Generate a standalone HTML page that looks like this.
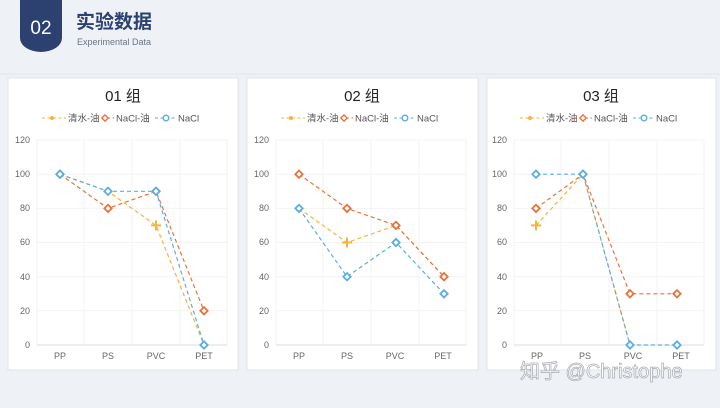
<!DOCTYPE html>
<html><head><meta charset="utf-8"><style>
body{margin:0;width:720px;height:403px;background:#eef2f6;overflow:hidden;font-family:"Liberation Sans","Noto Sans CJK SC",sans-serif}
</style></head><body>
<svg width="720" height="403" xmlns="http://www.w3.org/2000/svg" font-family="Liberation Sans, Noto Sans CJK SC, sans-serif">
<defs>
<g id="d"><rect x="-2.6" y="-2.6" width="5.2" height="5.2" transform="rotate(45)" fill="#fff" stroke-width="1.8"/></g>
<g id="ds"><rect x="-2.2" y="-2.2" width="4.4" height="4.4" transform="rotate(45)" fill="#fff" stroke-width="1.4"/></g>
</defs>
<rect x="0" y="0" width="720" height="403" fill="#eef2f6"/>
<line x1="0" y1="74" x2="720" y2="74" stroke="#e2e7ed"/>
<path d="M20 0 H62 V38 A21 14 0 0 1 20 38 Z" fill="#2c4170"/>
<text x="41" y="34" font-size="19" fill="#fff" text-anchor="middle">02</text>
<text x="76" y="28" font-size="19" font-weight="bold" fill="#2c4170">实验数据</text>
<text x="77" y="45" font-size="9" fill="#6a7585">Experimental Data</text>

<rect x="8" y="78" width="230" height="292" fill="#fff" stroke="#e0e4ea"/>
<rect x="247" y="78" width="231" height="292" fill="#fff" stroke="#e0e4ea"/>
<rect x="487" y="78" width="229" height="292" fill="#fff" stroke="#e0e4ea"/>

<g font-size="15" fill="#222" text-anchor="middle">
<text x="123" y="101">01 组</text><text x="362" y="101">02 组</text><text x="601" y="101">03 组</text>
</g>

<g id="leg" font-size="9.5" fill="#555">
<line x1="42" y1="118" x2="66" y2="118" stroke="#f5b342" stroke-dasharray="3,2.5"/><circle cx="52" cy="118" r="2" fill="#f5b342"/>
<text x="68" y="121.5">清水-油</text>
<line x1="96" y1="118" x2="114" y2="118" stroke="#e8733a" stroke-dasharray="3,2.5"/><use href="#ds" x="105" y="118" stroke="#e8733a"/>
<text x="116" y="121.5">NaCl-油</text>
<line x1="155" y1="118" x2="176" y2="118" stroke="#5aaee0" stroke-dasharray="3,2.5"/><circle cx="166" cy="118" r="2.8" fill="#fff" stroke="#5aaee0" stroke-width="1.4"/>
<text x="178" y="121.5">NaCl</text>
</g>
<use href="#leg" x="239"/>
<use href="#leg" x="478"/>

<g id="ax" font-size="9" fill="#666">
<g stroke="#f3f3f3">
<line x1="37" y1="140" x2="227" y2="140"/><line x1="37" y1="174.2" x2="227" y2="174.2"/><line x1="37" y1="208.4" x2="227" y2="208.4"/><line x1="37" y1="242.5" x2="227" y2="242.5"/><line x1="37" y1="276.7" x2="227" y2="276.7"/><line x1="37" y1="310.8" x2="227" y2="310.8"/>
<line x1="37" y1="140" x2="37" y2="345"/><line x1="84" y1="140" x2="84" y2="345"/><line x1="132" y1="140" x2="132" y2="345"/><line x1="180" y1="140" x2="180" y2="345"/><line x1="227" y1="140" x2="227" y2="345"/>
</g>
<line x1="37" y1="345" x2="227" y2="345" stroke="#dcdcdc"/>
<g text-anchor="end">
<text x="30" y="143">120</text><text x="30" y="177">100</text><text x="30" y="211">80</text><text x="30" y="245">60</text><text x="30" y="280">40</text><text x="30" y="314">20</text><text x="30" y="348">0</text>
</g>
<g text-anchor="middle">
<text x="60" y="359">PP</text><text x="108" y="359">PS</text><text x="156" y="359">PVC</text><text x="204" y="359">PET</text>
</g>
</g>
<use href="#ax" x="239"/>
<use href="#ax" x="477"/>

<g fill="none" stroke-width="1.2" stroke-dasharray="4,3">
<polyline points="60,174.2 108,191.3 156,225.4 204,345" stroke="#f5b342"/>
<polyline points="60,174.2 108,208.4 156,191.3 204,310.8" stroke="#e8733a"/>
<polyline points="60,174.2 108,191.3 156,191.3 204,345" stroke="#5aaee0"/>
<polyline points="299,208.4 347,242.5 396,225.4 444,276.7" stroke="#f5b342"/>
<polyline points="299,174.2 347,208.4 396,225.4 444,276.7" stroke="#e8733a"/>
<polyline points="299,208.4 347,276.7 396,242.5 444,293.8" stroke="#5aaee0"/>
<polyline points="536,225.4 583,174.2 630,345" stroke="#f5b342"/>
<polyline points="536,208.4 583,174.2 630,293.8 677,293.8" stroke="#e8733a"/>
<polyline points="536,174.2 583,174.2 630,345 677,345" stroke="#5aaee0"/>
</g>

<g stroke="#f5b342" stroke-width="2">
<path d="M156 220.4v10M151 225.4h10"/><path d="M347 237.5v10M342 242.5h10"/><path d="M536 220.4v10M531 225.4h10"/>
</g>
<g stroke="#e8733a">
<use href="#d" x="60" y="174.2"/><use href="#d" x="108" y="208.4"/><use href="#d" x="156" y="191.3"/><use href="#d" x="204" y="310.8"/>
<use href="#d" x="299" y="174.2"/><use href="#d" x="347" y="208.4"/><use href="#d" x="396" y="225.4"/><use href="#d" x="444" y="276.7"/>
<use href="#d" x="536" y="208.4"/><use href="#d" x="583" y="174.2"/><use href="#d" x="630" y="293.8"/><use href="#d" x="677" y="293.8"/>
</g>
<g stroke="#5aaee0">
<use href="#d" x="60" y="174.2"/><use href="#d" x="108" y="191.3"/><use href="#d" x="156" y="191.3"/><use href="#d" x="204" y="345"/>
<use href="#d" x="299" y="208.4"/><use href="#d" x="347" y="276.7"/><use href="#d" x="396" y="242.5"/><use href="#d" x="444" y="293.8"/>
<use href="#d" x="536" y="174.2"/><use href="#d" x="583" y="174.2"/><use href="#d" x="630" y="345"/><use href="#d" x="677" y="345"/>
</g>

<text x="520" y="378" font-size="20" fill="#fff" stroke="#a0a5aa" stroke-width="0.7" opacity="0.9">知乎 @Christophe</text>
</svg>
</body></html>
